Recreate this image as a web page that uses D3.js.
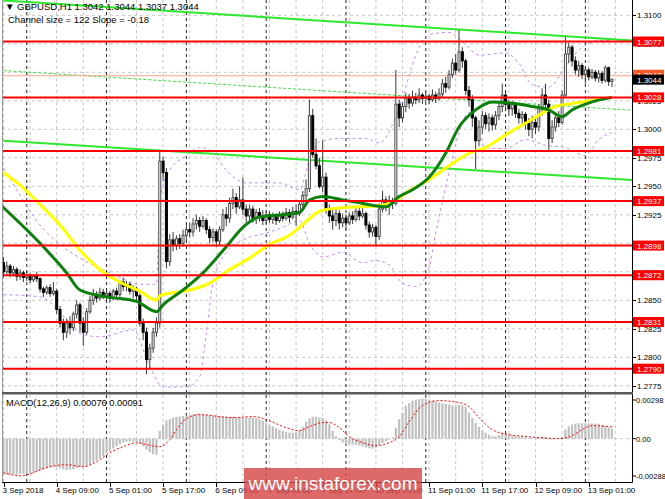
<!DOCTYPE html>
<html>
<head>
<meta charset="utf-8">
<script src="https://cdn.jsdelivr.net/npm/d3@7"></script>
<style>
body{margin:0;background:#fff;}
svg text{font-family:"Liberation Sans",Arial,sans-serif;font-size:8px;fill:#000;}
</style>
</head>
<body>
<svg id="chart" width="665" height="499"></svg>
<script>
// GBPUSD H1 candles, 3 Sep 17:00 -> 13 Sep 08:00
var opens = [1.2883,1.2875,1.2880,1.2874,1.2877,1.2871,1.2874,1.2870,1.2872,1.2868,
1.2871,1.2869,1.2860,1.2857,1.2861,1.2856,1.2858,1.2842,1.2830,1.2822,
1.2830,1.2826,1.2838,1.2846,1.2830,1.2822,1.2840,1.2850,1.2855,1.2852,
1.2857,1.2854,1.2856,1.2852,1.2858,1.2855,1.2866,1.2862,1.2864,1.2858,
1.2860,1.2854,1.2830,1.2822,1.2798,1.2808,1.2822,1.2830,1.2972,1.2962,
1.2884,1.2903,1.2898,1.2904,1.2900,1.2907,1.2912,1.2910,1.2917,1.2920,
1.2915,1.2920,1.2912,1.2905,1.2910,1.2902,1.2912,1.2925,1.2922,1.2935,
1.2940,1.2932,1.2938,1.2930,1.2924,1.2930,1.2922,1.2927,1.2924,1.2920,
1.2925,1.2921,1.2924,1.2920,1.2925,1.2922,1.2927,1.2923,1.2928,1.2926,
1.2934,1.2942,1.2948,1.3012,1.2978,1.2968,1.2950,1.2958,1.2930,1.2924,
1.2920,1.2926,1.2918,1.2922,1.2918,1.2924,1.2921,1.2928,1.2924,1.2926,
1.2916,1.2910,1.2914,1.2906,1.2930,1.2938,1.2933,1.2937,1.2935,1.3022,
1.3010,1.3020,1.3027,1.3023,1.3028,1.3026,1.3030,1.3027,1.3029,1.3026,
1.3030,1.3027,1.3031,1.3040,1.3037,1.3048,1.3058,1.3052,1.3068,1.3060,
1.3034,1.3026,1.3010,1.2990,1.3002,1.3012,1.3005,1.3010,1.3004,1.3012,
1.3020,1.3030,1.3022,1.3018,1.3022,1.3014,1.3010,1.3013,1.3005,1.3000,
1.3006,1.3002,1.3018,1.3030,1.3022,1.2992,1.3002,1.3010,1.3006,1.3030,
1.3066,1.3072,1.3060,1.3052,1.3056,1.3048,1.3052,1.3046,1.3050,1.3045,
1.3049,1.3043,1.3054,1.3042];
var highs = [1.2888,1.2884,1.2882,1.2880,1.2879,1.2877,1.2876,1.2875,1.2874,1.2873,
1.2875,1.2870,1.2862,1.2863,1.2864,1.2866,1.2860,1.2845,1.2834,1.2834,
1.2836,1.2840,1.2850,1.2848,1.2835,1.2843,1.2854,1.2860,1.2858,1.2861,
1.2860,1.2859,1.2858,1.2860,1.2861,1.2868,1.2870,1.2867,1.2866,1.2863,
1.2862,1.2856,1.2834,1.2826,1.2812,1.2826,1.2835,1.2982,1.2976,1.2966,
1.2908,1.2910,1.2907,1.2908,1.2912,1.2916,1.2918,1.2922,1.2925,1.2923,
1.2924,1.2922,1.2915,1.2913,1.2912,1.2915,1.2930,1.2932,1.2940,1.2948,
1.2944,1.2950,1.2958,1.2934,1.2934,1.2933,1.2930,1.2931,1.2929,1.2928,
1.2928,1.2927,1.2926,1.2928,1.2928,1.2931,1.2930,1.2932,1.2934,1.2938,
1.2946,1.2956,1.3026,1.3018,1.2992,1.2975,1.2990,1.2962,1.2934,1.2930,
1.2930,1.2929,1.2926,1.2925,1.2927,1.2928,1.2932,1.2931,1.2933,1.2928,
1.2919,1.2917,1.2916,1.2935,1.2946,1.2941,1.2942,1.2940,1.3052,1.3026,
1.3024,1.3032,1.3031,1.3034,1.3032,1.3036,1.3032,1.3033,1.3031,1.3035,
1.3033,1.3036,1.3044,1.3046,1.3052,1.3062,1.3066,1.3087,1.3072,1.3062,
1.3038,1.3030,1.3012,1.3008,1.3016,1.3015,1.3014,1.3013,1.3016,1.3024,
1.3040,1.3033,1.3026,1.3025,1.3024,1.3018,1.3016,1.3015,1.3010,1.3012,
1.3009,1.3022,1.3036,1.3040,1.3026,1.3008,1.3014,1.3016,1.3034,1.3081,
1.3076,1.3074,1.3064,1.3060,1.3058,1.3055,1.3054,1.3053,1.3052,1.3052,
1.3051,1.3056,1.3055,1.3044];
var lows = [1.2870,1.2873,1.2870,1.2871,1.2867,1.2868,1.2866,1.2867,1.2865,1.2866,
1.2866,1.2857,1.2853,1.2855,1.2853,1.2854,1.2838,1.2826,1.2815,1.2817,
1.2820,1.2823,1.2834,1.2822,1.2810,1.2820,1.2838,1.2846,1.2848,1.2850,
1.2851,1.2849,1.2848,1.2850,1.2852,1.2853,1.2858,1.2858,1.2855,1.2852,
1.2850,1.2827,1.2815,1.2785,1.2790,1.2804,1.2818,1.2826,1.2955,1.2878,
1.2880,1.2893,1.2894,1.2895,1.2897,1.2902,1.2905,1.2906,1.2912,1.2910,
1.2913,1.2908,1.2900,1.2901,1.2897,1.2898,1.2910,1.2915,1.2918,1.2930,
1.2926,1.2930,1.2925,1.2918,1.2920,1.2918,1.2917,1.2919,1.2916,1.2917,
1.2918,1.2917,1.2916,1.2918,1.2919,1.2920,1.2918,1.2921,1.2915,1.2924,
1.2930,1.2938,1.2945,1.2975,1.2965,1.2948,1.2945,1.2926,1.2918,1.2912,
1.2915,1.2912,1.2914,1.2912,1.2916,1.2917,1.2919,1.2920,1.2922,1.2912,
1.2905,1.2906,1.2898,1.2903,1.2927,1.2928,1.2925,1.2930,1.2933,1.3002,
1.3006,1.3015,1.3018,1.3020,1.3022,1.3023,1.3022,1.3024,1.3022,1.3024,
1.3023,1.3025,1.3028,1.3032,1.3035,1.3045,1.3048,1.3050,1.3054,1.3030,
1.3020,1.3002,1.2965,1.2985,1.2996,1.3000,1.2998,1.2999,1.3000,1.3008,
1.3015,1.3016,1.3012,1.3012,1.3010,1.3005,1.3004,1.3000,1.2994,1.2992,
1.2996,1.2998,1.3012,1.3016,1.2980,1.2988,1.2998,1.3002,1.3004,1.3028,
1.3058,1.3055,1.3048,1.3046,1.3044,1.3040,1.3043,1.3044,1.3042,1.3041,
1.3040,1.3041,1.3038,1.3037];
var closes = [1.2875,1.2880,1.2874,1.2877,1.2871,1.2874,1.2870,1.2872,1.2868,1.2871,
1.2869,1.2860,1.2857,1.2861,1.2856,1.2858,1.2842,1.2830,1.2822,1.2830,
1.2826,1.2838,1.2846,1.2830,1.2822,1.2840,1.2850,1.2855,1.2852,1.2857,
1.2854,1.2856,1.2852,1.2858,1.2855,1.2866,1.2862,1.2864,1.2858,1.2860,
1.2854,1.2830,1.2822,1.2798,1.2808,1.2822,1.2830,1.2972,1.2962,1.2884,
1.2903,1.2898,1.2904,1.2900,1.2907,1.2912,1.2910,1.2917,1.2920,1.2915,
1.2920,1.2912,1.2905,1.2910,1.2902,1.2912,1.2925,1.2922,1.2935,1.2940,
1.2932,1.2938,1.2930,1.2924,1.2930,1.2922,1.2927,1.2924,1.2920,1.2925,
1.2921,1.2924,1.2920,1.2925,1.2922,1.2927,1.2923,1.2928,1.2926,1.2934,
1.2942,1.2948,1.3012,1.2978,1.2968,1.2950,1.2958,1.2930,1.2924,1.2920,
1.2926,1.2918,1.2922,1.2918,1.2924,1.2921,1.2928,1.2924,1.2926,1.2916,
1.2910,1.2914,1.2906,1.2930,1.2938,1.2933,1.2937,1.2935,1.3022,1.3010,
1.3020,1.3027,1.3023,1.3028,1.3026,1.3030,1.3027,1.3029,1.3026,1.3030,
1.3027,1.3031,1.3040,1.3037,1.3048,1.3058,1.3052,1.3068,1.3060,1.3034,
1.3026,1.3010,1.2990,1.3002,1.3012,1.3005,1.3010,1.3004,1.3012,1.3020,
1.3030,1.3022,1.3018,1.3022,1.3014,1.3010,1.3013,1.3005,1.3000,1.3006,
1.3002,1.3018,1.3030,1.3022,1.2992,1.3002,1.3010,1.3006,1.3030,1.3066,
1.3072,1.3060,1.3052,1.3056,1.3048,1.3052,1.3046,1.3050,1.3045,1.3049,
1.3043,1.3054,1.3042,1.3044];

// moving averages (bar index, price)
var yellowIdx = [-1,5,11,17,23,29,35,41,46,47,52,56,62,68,74,80,86,91,95,101,107,113,118,122,128,134,140,145,151,158,166,172,178,183];
var yellowVal = [1.2964,1.2951,1.2934,1.2916,1.2894,1.2877,1.2866,1.2858,1.2850,1.2854,1.2857,1.2859,1.2865,1.2877,1.2887,1.2899,1.2907,1.2919,1.2928,1.2931,1.2932,1.2933,1.2938,1.2946,1.2956,1.2968,1.2979,1.2984,1.2995,1.3007,1.3020,1.3023,1.3026,1.3028];
var greenIdx = [-1,11,19,23,31,40,46,48,54,60,67,72,77,84,89,92,96,102,108,115,119,123,128,133,137,142,147,152,159,164,168,171,177,183];
var greenVal = [1.2934,1.2900,1.2874,1.2859,1.2853,1.2849,1.2840,1.2846,1.2859,1.2874,1.2897,1.2914,1.2923,1.2925,1.2927,1.2938,1.2941,1.2938,1.2935,1.2932,1.2941,1.2947,1.2958,1.2979,1.3002,1.3017,1.3024,1.3023,1.3020,1.3017,1.3011,1.3017,1.3024,1.3028];

// bollinger bands
var bbUpIdx = [0,5,11,17,23,29,35,41,46,47,50,55,59,62,67,73,83,89,92,95,101,109,113,117,120,124,128,134,139,143,151,155,159,164,169,174,180,183];
var bbUpVal = [1.2966,1.2942,1.2916,1.2899,1.2887,1.2878,1.2870,1.2864,1.2864,1.2938,1.2964,1.2977,1.2984,1.2982,1.2964,1.2953,1.2953,1.2947,1.2973,1.2989,1.2992,1.2992,1.2988,1.3004,1.3028,1.3065,1.3083,1.3085,1.3074,1.3065,1.3067,1.3058,1.3039,1.3037,1.3055,1.3072,1.3078,1.3078];
var bbLoIdx = [0,11,19,23,29,39,44,48,55,59,61,63,67,72,79,84,89,92,96,102,108,112,116,120,124,128,130,134,137,140,142,145,151,157,163,169,175,179,183];
var bbLoVal = [1.2855,1.2853,1.2833,1.2821,1.2818,1.2824,1.2792,1.2774,1.2774,1.2783,1.2821,1.2865,1.2892,1.2903,1.2909,1.2914,1.2920,1.2900,1.2888,1.2892,1.2883,1.2885,1.2881,1.2865,1.2862,1.2879,1.2909,1.2962,1.2997,1.3015,1.3004,1.2984,1.2983,1.2991,1.2986,1.2984,1.2977,1.2991,1.2997];

// regression channel ends (bar index, price)
var channelIdx = [0, 189];
var channelUpper = [1.3113, 1.3078];
var channelLower = [1.2990, 1.29555];

// support / resistance levels
var levels = [1.3077, 1.3028, 1.2981, 1.2937, 1.2898, 1.2872, 1.2831, 1.2790];
var askPrice = 1.3047;
var bidPrice = 1.3044;

// MACD(12,26,9)
var macdHist = [-0.00278,-0.00278,-0.00277,-0.00276,-0.00275,-0.00274,-0.00272,-0.00270,-0.00268,-0.00262,
-0.00255,-0.00247,-0.00238,-0.00230,-0.00222,-0.00216,-0.00220,-0.00228,-0.00236,-0.00240,
-0.00240,-0.00236,-0.00228,-0.00220,-0.00218,-0.00214,-0.00200,-0.00184,-0.00168,-0.00150,
-0.00135,-0.00110,-0.00092,-0.00075,-0.00058,-0.00042,-0.00030,-0.00024,-0.00022,-0.00022,
-0.00026,-0.00040,-0.00060,-0.00085,-0.00105,-0.00118,-0.00124,0.00060,0.00108,0.00140,
0.00150,0.00160,0.00168,0.00172,0.00176,0.00178,0.00182,0.00188,0.00193,0.00193,
0.00190,0.00185,0.00180,0.00177,0.00175,0.00172,0.00172,0.00170,0.00170,0.00170,
0.00168,0.00167,0.00165,0.00164,0.00163,0.00162,0.00158,0.00150,0.00140,0.00120,
0.00108,0.00095,0.00082,0.00070,0.00060,0.00052,0.00047,0.00046,0.00050,0.00060,
0.00090,0.00130,0.00155,0.00170,0.00168,0.00162,0.00160,0.00140,0.00110,0.00060,
0.00020,-0.00010,-0.00030,-0.00040,-0.00044,-0.00046,-0.00048,-0.00052,-0.00060,-0.00068,
-0.00075,-0.00077,-0.00070,-0.00050,-0.00035,-0.00020,-0.00008,0.00010,0.00085,0.00150,
0.00200,0.00255,0.00275,0.00293,0.00300,0.00306,0.00309,0.00306,0.00301,0.00294,
0.00285,0.00278,0.00272,0.00268,0.00262,0.00256,0.00255,0.00262,0.00258,0.00245,
0.00200,0.00160,0.00120,0.00090,0.00065,0.00046,0.00030,0.00020,0.00018,0.00025,
0.00046,0.00040,0.00030,0.00023,0.00018,0.00015,0.00012,0.00010,0.00006,0.00004,
-0.00004,0.00005,0.00015,0.00016,-0.00005,-0.00006,0.00000,0.00004,0.00015,0.00070,
0.00095,0.00108,0.00116,0.00118,0.00118,0.00119,0.00118,0.00117,0.00116,0.00114,
0.00106,0.00100,0.00088,0.00076];
var signalIdx = [0,5,14,19,24,28,32,36,40,43,47,50,52,55,59,69,75,79,85,89,92,96,98,101,104,108,112,116,119,122,126,131,137,140,143,147,152,158,167,171,174,177,183];
var signalVal = [-0.00263,-0.00286,-0.00216,-0.00201,-0.00216,-0.00178,-0.00108,-0.00062,-0.00031,-0.00046,-0.00062,-0.00008,0.00069,0.00154,0.00185,0.00162,0.00170,0.00147,0.00085,0.00062,0.00093,0.00124,0.00124,0.00085,0.00015,-0.00031,-0.00054,-0.00031,0.00015,0.00131,0.00255,0.00293,0.00278,0.00247,0.00162,0.00069,0.00031,0.00015,0.00000,0.00023,0.00069,0.00100,0.00091];
var macdTicks = [0.00298, 0.00, -0.00288];
var macdTickText = ["0.00298", "0.00", "-0.00288"];

// axes
var priceTicks = [1.3100,1.3075,1.3050,1.3025,1.3000,1.2975,1.2950,1.2925,1.2900,1.2875,1.2850,1.2825,1.2800,1.2775];
var timeIdx = [0,16,32,48,64,80,96,112,128,144,160,176];
var timeText = ["3 Sep 2018","4 Sep 09:00","5 Sep 01:00","5 Sep 17:00","6 Sep 09:00","7 Sep 01:00","7 Sep 17:00","10 Sep 09:00","11 Sep 01:00","11 Sep 17:00","12 Sep 09:00","13 Sep 01:00"];
var dayIdx = [7,31,55,79,103,127,151,175];

var left = 2, right = 632, mainTop = 0, mainBottom = 392, macdTop = 395, macdBottom = 482;

var x = d3.scaleLinear().domain([0, 183]).range([3.5, 3.5 + 183 * 3.325]);
var y = d3.scaleLinear().domain([1.2775, 1.3100]).range([385.8, 15.3]);
var ym = d3.scaleLinear().domain([-0.00288, 0.00298]).range([476, 400]);

var svg = d3.select("#chart");

var defs = svg.append("defs");
defs.append("clipPath").attr("id", "clipMain").append("rect")
  .attr("x", left).attr("y", mainTop).attr("width", right - left).attr("height", mainBottom - mainTop);
defs.append("clipPath").attr("id", "clipMacd").append("rect")
  .attr("x", left).attr("y", macdTop).attr("width", right - left).attr("height", macdBottom - macdTop);

var main = svg.append("g").attr("clip-path", "url(#clipMain)");
var macd = svg.append("g").attr("clip-path", "url(#clipMacd)");

//Grid
main.selectAll(".hgrid").data(priceTicks).enter().append("line")
  .attr("x1", left).attr("x2", right)
  .attr("y1", function(d){ return y(d); }).attr("y2", function(d){ return y(d); })
  .attr("stroke", "#c6c6c6").attr("stroke-dasharray", "3,3");
macd.append("line")
  .attr("x1", left).attr("x2", right).attr("y1", ym(0)).attr("y2", ym(0))
  .attr("stroke", "#c6c6c6").attr("stroke-dasharray", "3,3");

var gridIdx = d3.range(0, 192, 8);
[[main, mainTop, mainBottom], [macd, macdTop, macdBottom]].forEach(function(p){
  p[0].selectAll(".vgrid").data(gridIdx).enter().append("line")
    .attr("x1", function(d){ return x(d); }).attr("x2", function(d){ return x(d); })
    .attr("y1", p[1]).attr("y2", p[2])
    .attr("stroke", "#c6c6c6").attr("stroke-dasharray", "3,3");
  p[0].selectAll(".dgrid").data(dayIdx).enter().append("line")
    .attr("x1", function(d){ return x(d); }).attr("x2", function(d){ return x(d); })
    .attr("y1", p[1]).attr("y2", p[2])
    .attr("stroke", "#222").attr("stroke-dasharray", "3,3");
});

var line = d3.line()
  .x(function(d){ return x(d[0]); })
  .y(function(d){ return y(d[1]); })
  .curve(d3.curveMonotoneX);

//Channel
var mid = [(channelUpper[0] + channelLower[0]) / 2, (channelUpper[1] + channelLower[1]) / 2];
main.append("path").datum(d3.zip(channelIdx, mid)).attr("d", d3.line().x(function(d){ return x(d[0]); }).y(function(d){ return y(d[1]); }))
  .attr("fill", "none").attr("stroke", "#3ee03e").attr("stroke-width", 1).attr("stroke-dasharray", "3,2");
[channelUpper, channelLower].forEach(function(c){
  main.append("path").datum(d3.zip(channelIdx, c)).attr("d", d3.line().x(function(d){ return x(d[0]); }).y(function(d){ return y(d[1]); }))
    .attr("fill", "none").attr("stroke", "#2ee82e").attr("stroke-width", 2);
});

//Bollinger bands
[[bbUpIdx, bbUpVal], [bbLoIdx, bbLoVal]].forEach(function(b){
  main.append("path").datum(d3.zip(b[0], b[1])).attr("d", line)
    .attr("fill", "none").attr("stroke", "#c88cf0").attr("stroke-width", 1).attr("stroke-dasharray", "3,3");
});

//Ask line
main.append("line")
  .attr("x1", left).attr("x2", right).attr("y1", y(askPrice)).attr("y2", y(askPrice))
  .attr("stroke", "#f2a48a").attr("stroke-width", 1);

//Candles
var candles = d3.range(closes.length).map(function(i){
  return {i: i, o: opens[i], h: highs[i], l: lows[i], c: closes[i]};
});
var cg = main.append("g");
cg.selectAll(".wick").data(candles).enter().append("line")
  .attr("x1", function(d){ return x(d.i); }).attr("x2", function(d){ return x(d.i); })
  .attr("y1", function(d){ return y(d.h); }).attr("y2", function(d){ return y(d.l); })
  .attr("stroke", "#3a3a3a").attr("stroke-width", 1);
cg.selectAll(".body").data(candles).enter().append("rect")
  .attr("x", function(d){ return x(d.i) - 1; })
  .attr("width", 2)
  .attr("y", function(d){ return y(Math.max(d.o, d.c)); })
  .attr("height", function(d){ return Math.max(0.6, Math.abs(y(d.o) - y(d.c))); })
  .attr("fill", function(d){ return d.c >= d.o ? "#fff" : "#000"; })
  .attr("stroke", function(d){ return d.c >= d.o ? "#4a4a4a" : "#000"; })
  .attr("stroke-width", 1);

//Moving averages
main.append("path").datum(d3.zip(yellowIdx, yellowVal)).attr("d", line)
  .attr("fill", "none").attr("stroke", "#ffff00").attr("stroke-width", 3);
main.append("path").datum(d3.zip(greenIdx, greenVal)).attr("d", line)
  .attr("fill", "none").attr("stroke", "#0c800c").attr("stroke-width", 3);

//Levels
main.selectAll(".level").data(levels).enter().append("line")
  .attr("x1", left).attr("x2", right)
  .attr("y1", function(d){ return y(d); }).attr("y2", function(d){ return y(d); })
  .attr("stroke", "#ff0000").attr("stroke-width", 2);

//MACD histogram
macd.selectAll(".hist").data(macdHist).enter().append("rect")
  .attr("x", function(d, i){ return x(i) - 1.1; })
  .attr("width", 2.2)
  .attr("y", function(d){ return Math.min(ym(0), ym(d)); })
  .attr("height", function(d){ return Math.abs(ym(d) - ym(0)); })
  .attr("fill", "#c0c0c0");
macd.append("path").datum(d3.zip(signalIdx, signalVal))
  .attr("d", d3.line().x(function(d){ return x(d[0]); }).y(function(d){ return ym(d[1]); }).curve(d3.curveMonotoneX))
  .attr("fill", "none").attr("stroke", "#ff0000").attr("stroke-width", 1).attr("stroke-dasharray", "2,2");

//Frame
svg.append("line").attr("x1", left + 0.5).attr("x2", left + 0.5).attr("y1", 0).attr("y2", macdBottom)
  .attr("stroke", "#9a9a9a");
svg.append("line").attr("x1", right + 0.5).attr("x2", right + 0.5).attr("y1", 0).attr("y2", macdBottom + 0.5)
  .attr("stroke", "#000");
svg.append("line").attr("x1", left).attr("x2", right + 0.5).attr("y1", macdBottom + 0.5).attr("y2", macdBottom + 0.5)
  .attr("stroke", "#000");
svg.append("rect").attr("x", left).attr("y", mainBottom).attr("width", right - left + 1).attr("height", 2.5)
  .attr("fill", "#5a5a5a");

//Price axis
svg.selectAll(".ptick").data(priceTicks).enter().append("line")
  .attr("x1", right).attr("x2", right + 4)
  .attr("y1", function(d){ return Math.round(y(d)) + 0.5; }).attr("y2", function(d){ return Math.round(y(d)) + 0.5; })
  .attr("stroke", "#000");
svg.selectAll(".plabel").data(priceTicks).enter().append("text")
  .attr("x", right + 5).attr("y", function(d){ return y(d) + 3; })
  .text(function(d){ return d.toFixed(4); });

//MACD axis
svg.selectAll(".mtick").data(macdTicks).enter().append("line")
  .attr("x1", right).attr("x2", right + 4)
  .attr("y1", function(d){ return ym(d); }).attr("y2", function(d){ return ym(d); })
  .attr("stroke", "#000");
svg.selectAll(".mlabel").data(macdTicks).enter().append("text")
  .attr("x", right + 4).attr("y", function(d){ return ym(d) + 3; })
  .style("font-size", "7.6px")
  .text(function(d, i){ return macdTickText[i]; });

//Level labels
var lab = svg.selectAll(".lvl").data(levels).enter().append("g");
lab.append("rect").attr("x", right + 1).attr("y", function(d){ return y(d) - 5; })
  .attr("width", 31).attr("height", 10).attr("fill", "#ff0000");
lab.append("text").attr("x", right + 5).attr("y", function(d){ return y(d) + 3; })
  .style("fill", "#fff").text(function(d){ return d.toFixed(4); });

//Ask / bid labels
svg.append("rect").attr("x", right + 1).attr("y", y(askPrice) - 6).attr("width", 31).attr("height", 10).attr("fill", "#ff5c28");
svg.append("text").attr("x", right + 5).attr("y", y(askPrice) + 2).style("fill", "#fff").text(askPrice.toFixed(4));
svg.append("rect").attr("x", right + 1).attr("y", y(bidPrice) - 4.5).attr("width", 31).attr("height", 10).attr("fill", "#000");
svg.append("text").attr("x", right + 5).attr("y", y(bidPrice) + 3.5).style("fill", "#fff").text(bidPrice.toFixed(4));

//Time axis
svg.selectAll(".ttick").data(timeIdx).enter().append("line")
  .attr("x1", function(d){ return Math.round(x(d)) + 0.5; }).attr("x2", function(d){ return Math.round(x(d)) + 0.5; })
  .attr("y1", macdBottom).attr("y2", macdBottom + 5)
  .attr("stroke", "#000");
svg.selectAll(".tlabel").data(timeIdx).enter().append("text")
  .attr("x", function(d){ return x(d) - 1; }).attr("y", 493)
  .text(function(d, i){ return timeText[i]; });

//Titles
svg.append("text").attr("x", 5).attr("y", 10).style("font-size", "9.5px")
  .text("\u25BC GBPUSD,H1  1.3042 1.3044 1.3037 1.3044");
svg.append("text").attr("x", 8).attr("y", 23).style("font-size", "9.5px")
  .text("Channel size = 122 Slope = -0.18");
svg.append("text").attr("x", 6).attr("y", 406).style("font-size", "9.3px")
  .text("MACD(12,26,9) 0.00076 0.00091");

//Watermark (sits over the time labels, as in the source)
svg.append("rect").attr("x", 244).attr("y", 468).attr("width", 178).attr("height", 31)
  .attr("fill", "rgba(214,72,72,0.82)");
svg.append("text").attr("x", 333).attr("y", 490).attr("text-anchor", "middle")
  .style("font-size", "19px").style("fill", "#fff").text("www.instaforex.com");
</script>
</body>
</html>
